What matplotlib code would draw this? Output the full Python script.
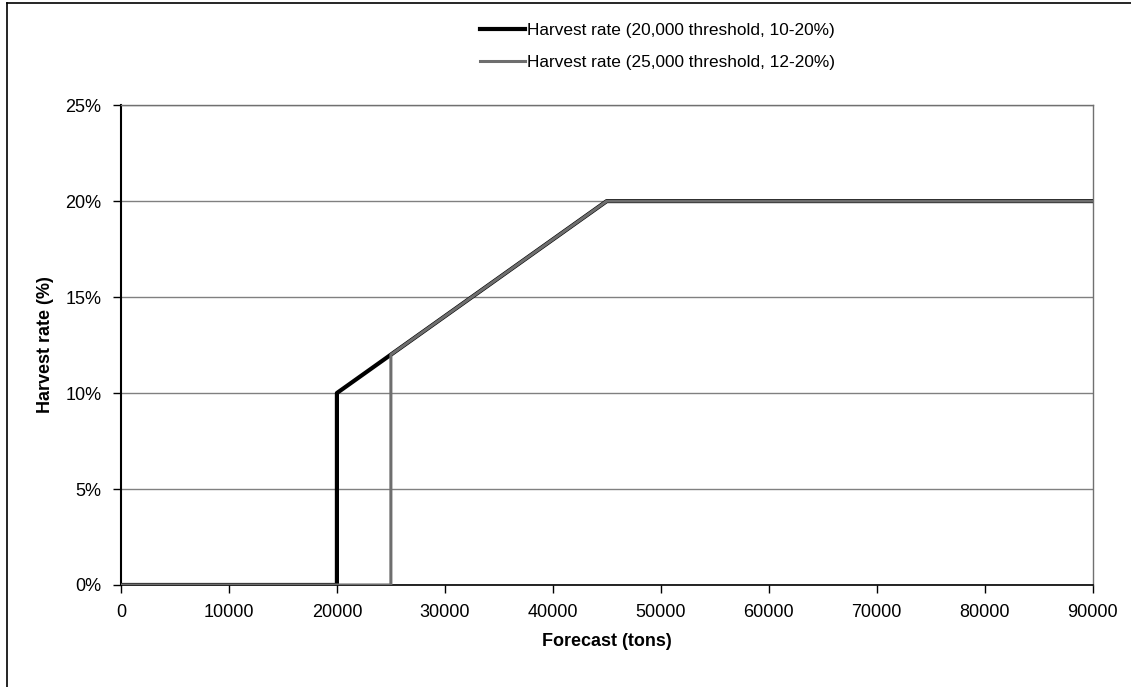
import numpy as np
import matplotlib
matplotlib.use("Agg")
from matplotlib import pyplot as plt
from matplotlib.lines import Line2D
from matplotlib.ticker import PercentFormatter

plt.rcParams['font.family'] = ['Liberation Sans', 'DejaVu Sans']

# harvest control rules (forecast tons -> harvest rate %)
forecast_20k = [0, 20000, 20000, 45000, 90000]
rate_20k = [0, 0, 10, 20, 20]
forecast_25k = [0, 25000, 25000, 45000, 90000]
rate_25k = [0, 0, 12, 20, 20]

label_20k = 'Harvest rate (20,000 threshold, 10-20%)'
label_25k = 'Harvest rate (25,000 threshold, 12-20%)'

x_ticks = np.arange(0, 90001, 10000)
y_ticks = np.arange(0, 26, 5)

fig = plt.figure(figsize=(11.31, 6.87), dpi=100)
ax = fig.add_axes([0.107, 0.1485, 0.859, 0.6985])

ax.plot(forecast_20k, rate_20k, color='black', lw=3, label=label_20k, zorder=3)
ax.plot(forecast_25k, rate_25k, color='#6e6e6e', lw=2.2, label=label_25k, zorder=4)

ax.set_xlim(0, 90000)
ax.set_ylim(0, 25)
ax.set_xticks(x_ticks)
ax.set_yticks(y_ticks)
ax.yaxis.set_major_formatter(PercentFormatter(decimals=0))
ax.tick_params(labelsize=13, length=6, width=1, color='black', pad=8)
ax.grid(axis='y', color='#808080', lw=1)
ax.set_axisbelow(True)

ax.spines['left'].set_color('black')
ax.spines['left'].set_linewidth(1.5)
ax.spines['bottom'].set_color('black')
ax.spines['bottom'].set_linewidth(1.2)
for s in ['top', 'right']:
    ax.spines[s].set_color('#707070')
    ax.spines[s].set_linewidth(1)

ax.set_xlabel('Forecast (tons)', fontsize=13, fontweight='bold', labelpad=8)
ax.set_ylabel('Harvest rate (%)', fontsize=13, fontweight='bold', labelpad=8)

fig.legend(loc='center left', bbox_to_anchor=(0.417, 0.932), frameon=False,
           fontsize=12.4, handlelength=2.6, handletextpad=0.1, labelspacing=1.0,
           borderpad=0)

# outer chart border (top and left edge)
fig.add_artist(Line2D([0.006, 1], [0.996, 0.996], color='black', lw=1.2))
fig.add_artist(Line2D([0.006, 0.006], [0, 0.996], color='black', lw=1.2))

fig.savefig('out.png', dpi=100)
